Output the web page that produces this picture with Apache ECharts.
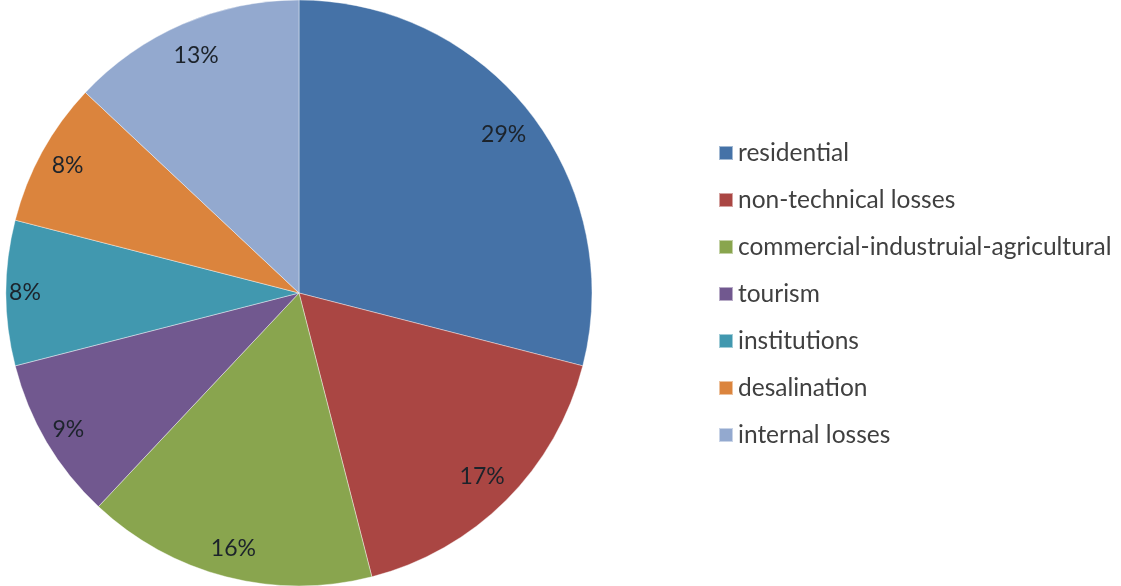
<!DOCTYPE html>
<html>
<head>
<meta charset="utf-8">
<style>
  html, body { margin: 0; padding: 0; background: #ffffff; }
  #chart { width: 1121px; height: 586px; }
</style>
<script src="https://cdn.jsdelivr.net/npm/echarts@6/dist/echarts.min.js"></script>
</head>
<body>
<div id="chart"></div>
<script>
// Water consumption shares by sector (percent)
const categories = [
  'residential',
  'non-technical losses',
  'commercial-industruial-agricultural',
  'tourism',
  'institutions',
  'desalination',
  'internal losses'
];
const shares = [29, 17, 16, 9, 8, 8, 13];
const colors = ['#4572A7', '#AA4643', '#89A54E', '#71588F', '#4198AF', '#DB843D', '#93A9CF'];

// distance of each percentage label from the pie centre (px)
const labelRadius = [256, 256, 261, 265, 271, 261, 256];

const sliceData = categories.map((name, i) => ({ name, value: shares[i] }));

const chart = echarts.init(document.getElementById('chart'), null, { renderer: 'canvas' });

const center = [299, 293];
const outerR = 293;
const fontFamily = 'Lato, "Open Sans", sans-serif';

// one transparent ring per label so each label sits at its own distance
const labelSeries = labelRadius.map((r, idx) => ({
  type: 'pie',
  center,
  radius: [2 * r - outerR, outerR],
  startAngle: 90,
  clockwise: true,
  silent: true,
  legendHoverLink: false,
  itemStyle: { color: 'rgba(0,0,0,0)' },
  label: {
    show: true,
    position: 'inside',
    formatter: p => (p.dataIndex === idx ? Math.round(p.percent) + '%' : ''),
    fontFamily,
    fontSize: 23,
    color: '#1c232b'
  },
  labelLine: { show: false },
  data: sliceData
}));

chart.setOption({
  animation: false,
  color: colors,
  legend: {
    orient: 'vertical',
    left: 718,
    top: 140,
    padding: 0,
    itemWidth: 14,
    itemHeight: 14,
    itemGap: 21,
    icon: 'rect',
    textStyle: { fontFamily, fontSize: 24.5, lineHeight: 26, color: '#404040' },
    data: categories
  },
  series: [
    {
      // slices
      type: 'pie',
      center,
      radius: [0, outerR],
      startAngle: 90,
      clockwise: true,
      silent: true,
      label: { show: false },
      labelLine: { show: false },
      itemStyle: { borderColor: 'rgba(255,255,255,0.5)', borderWidth: 0.8 },
      data: sliceData
    },
    ...labelSeries
  ]
});
</script>
</body>
</html>
